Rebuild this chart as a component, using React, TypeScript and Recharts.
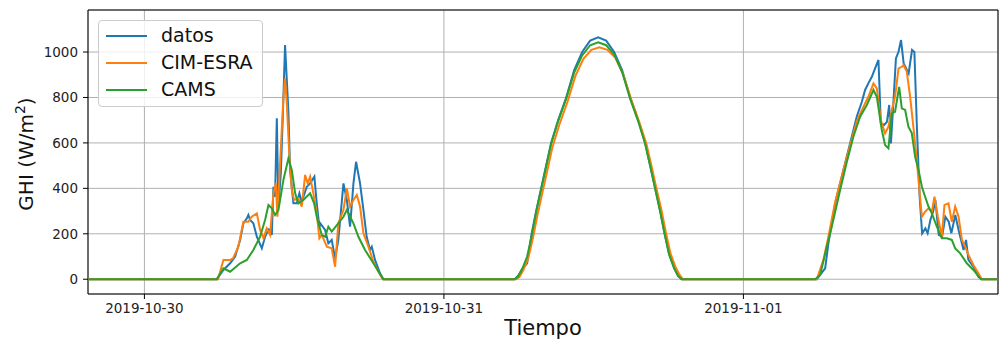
import { LineChart, Line, XAxis, YAxis, CartesianGrid, ReferenceArea, Label } from 'recharts';

const fuente = "'DejaVu Sans', 'Liberation Sans', sans-serif";

// horas desde 2019-10-30 00:00 , GHI en W/m2
const datos: [number, number][] = [
  [-4.52, 0], [5.8, 0], [6.33, 41], [6.87, 70], [7.27, 100], [7.67, 173], [7.93, 246], [8.21, 268], [8.33, 283],
  [8.47, 261], [8.73, 246], [9.01, 187], [9.41, 136], [9.67, 187], [9.94, 220], [10.07, 217], [10.21, 195],
  [10.34, 407], [10.47, 363], [10.61, 708], [10.74, 320], [10.93, 466], [11.09, 715], [11.27, 1031], [11.54, 737],
  [11.67, 481], [11.94, 334], [12.21, 334], [12.42, 378], [12.61, 341], [13.01, 407], [13.28, 422], [13.62, 452],
  [13.81, 334], [14.02, 231], [14.08, 247], [14.48, 217], [14.74, 158], [15.01, 173], [15.28, 92], [15.54, 173],
  [15.95, 422], [16.22, 349], [16.48, 231], [16.75, 422], [16.96, 517], [17.28, 422], [17.55, 305], [17.81, 187],
  [18.08, 129], [18.22, 143], [18.48, 85], [18.88, 26], [19.15, 0],
  [29.67, 0], [29.95, 15], [30.27, 45], [30.67, 70], [31.03, 200], [31.39, 300], [31.79, 400], [32.19, 500],
  [32.59, 600], [33.15, 700], [33.8, 800], [34.44, 920], [35.08, 1000], [35.72, 1050], [36.36, 1065], [37.0, 1050],
  [37.64, 1000], [38.28, 920], [38.92, 800], [39.57, 700], [40.13, 600], [40.53, 500], [40.93, 400], [41.33, 300],
  [41.69, 200], [42.05, 110], [42.45, 50], [42.77, 15], [43.05, 0],
  [53.88, 0], [54.55, 48], [54.81, 158], [55.35, 334], [56.01, 481], [56.55, 598], [57.08, 715], [57.49, 781],
  [57.75, 833], [58.01, 862], [58.29, 891], [58.55, 928], [58.82, 965], [59.01, 686], [59.28, 679], [59.5, 693],
  [59.68, 767], [59.82, 598], [60.03, 789], [60.22, 972], [60.43, 1001], [60.63, 1053], [60.84, 950], [61.24, 906],
  [61.51, 1009], [61.7, 1000], [61.91, 657], [62.12, 363], [62.32, 202], [62.58, 224], [62.76, 202], [62.98, 261],
  [63.2, 297], [63.38, 349], [63.65, 195], [63.92, 187], [64.18, 275], [64.45, 253], [64.66, 202], [64.98, 283],
  [65.24, 217], [65.64, 129], [65.84, 173], [66.03, 85], [66.43, 55], [66.83, 11], [67.1, 0], [68.4, 0],
];

const cimEsra: [number, number][] = [
  [-4.52, 0], [5.9, 0], [6.33, 85], [6.87, 85], [7.1, 92], [7.53, 143], [7.93, 253], [8.33, 253], [8.6, 275],
  [9.01, 290], [9.27, 217], [9.54, 180], [9.8, 224], [10.07, 195], [10.34, 378], [10.53, 422], [10.66, 275],
  [10.87, 510], [11.14, 803], [11.27, 884], [11.41, 774], [11.62, 539], [11.81, 393], [12.0, 349], [12.34, 356],
  [12.61, 320], [12.88, 459], [13.09, 422], [13.28, 452], [13.54, 378], [13.81, 290], [14.02, 180], [14.21, 195],
  [14.62, 143], [15.01, 136], [15.28, 55], [15.54, 246], [15.95, 305], [16.22, 400], [16.48, 320], [16.75, 349],
  [17.02, 371], [17.28, 320], [17.55, 202], [17.95, 143], [18.35, 77], [18.75, 33], [19.1, 0],
  [29.77, 0], [30.05, 10], [30.37, 40], [30.77, 95], [31.13, 180], [31.49, 280], [31.89, 380], [32.29, 480],
  [32.69, 580], [33.25, 680], [33.9, 780], [34.54, 895], [35.18, 970], [35.82, 1010], [36.46, 1021], [37.1, 1010],
  [37.74, 975], [38.38, 900], [39.02, 790], [39.67, 690], [40.23, 595], [40.63, 500], [41.03, 400], [41.43, 305],
  [41.79, 205], [42.15, 115], [42.55, 55], [42.87, 20], [43.15, 0],
  [53.88, 0], [54.41, 85], [54.81, 187], [55.35, 340], [56.01, 480], [56.55, 590], [57.08, 695], [57.62, 759],
  [58.01, 803], [58.42, 862], [58.69, 840], [59.01, 701], [59.35, 642], [59.62, 671], [59.89, 745], [60.15, 803],
  [60.43, 928], [60.69, 935], [60.82, 943], [61.09, 914], [61.36, 803], [61.62, 671], [61.89, 525], [62.1, 393],
  [62.3, 275], [62.56, 297], [62.83, 312], [63.1, 297], [63.31, 363], [63.58, 275], [63.9, 187], [64.11, 327],
  [64.43, 334], [64.7, 253], [64.97, 320], [65.24, 275], [65.51, 173], [65.77, 143], [66.03, 107], [66.43, 63],
  [66.83, 26], [67.1, 0], [68.4, 0],
];

const cams: [number, number][] = [
  [-4.52, 0], [5.8, 0], [6.33, 48], [6.87, 33], [7.67, 70], [8.21, 85], [8.73, 129], [9.27, 187], [9.67, 261],
  [9.94, 327], [10.21, 312], [10.47, 283], [10.74, 305], [11.14, 437], [11.54, 532], [11.81, 481], [12.08, 378],
  [12.34, 334], [12.74, 349], [13.28, 378], [13.6, 334], [13.81, 275], [14.21, 195], [14.48, 187], [14.74, 231],
  [15.01, 210], [15.95, 275], [16.22, 305], [16.75, 246], [17.15, 187], [17.68, 129], [18.35, 70], [19.02, 11],
  [19.15, 0],
  [29.67, 0], [29.95, 12], [30.27, 45], [30.67, 100], [31.03, 190], [31.39, 295], [31.79, 395], [32.19, 495],
  [32.59, 595], [33.15, 695], [33.8, 795], [34.44, 910], [35.08, 985], [35.72, 1030], [36.36, 1043], [37.0, 1030],
  [37.64, 990], [38.28, 912], [38.92, 795], [39.57, 695], [40.13, 595], [40.53, 498], [40.93, 398], [41.33, 298],
  [41.69, 198], [42.05, 108], [42.45, 48], [42.77, 14], [43.05, 0],
  [53.75, 0], [54.15, 19], [54.68, 143], [55.08, 231], [55.75, 393], [56.29, 517], [56.81, 627], [57.35, 715],
  [57.89, 767], [58.42, 833], [58.69, 803], [59.09, 657], [59.35, 591], [59.62, 576], [59.89, 730], [60.15, 737],
  [60.48, 847], [60.69, 752], [60.96, 745], [61.22, 671], [61.49, 643], [61.76, 539], [62.03, 481], [62.3, 407],
  [62.56, 363], [62.83, 320], [63.1, 290], [63.5, 231], [63.9, 180], [64.3, 180], [64.7, 173], [64.97, 136],
  [65.37, 114], [65.9, 70], [66.43, 41], [66.97, 4], [67.05, 0], [68.4, 0],
];

const ticksTiempo = [0, 24, 48];
const etiquetasTiempo = ['2019-10-30', '2019-10-31', '2019-11-01'];
const ticksGHI = [0, 200, 400, 600, 800, 1000];

const series = [
  { nombre: 'datos', color: '#1f77b4', puntos: datos },
  { nombre: 'CIM-ESRA', color: '#ff7f0e', puntos: cimEsra },
  { nombre: 'CAMS', color: '#2ca02c', puntos: cams },
];

const dominioX: [number, number] = [-4.52, 68.4];
const dominioY: [number, number] = [-65, 1185];

const EtiquetaTiempo = ({ viewBox }: any) => (
  <text x={viewBox.x + viewBox.width / 2} y={viewBox.y + 41} textAnchor="middle"
    style={{ fontFamily: fuente, fontSize: 21, fill: '#111' }}>
    Tiempo
  </text>
);

const EtiquetaGHI = ({ viewBox }: any) => {
  const x = viewBox.x + 5;
  const y = viewBox.y + viewBox.height / 2 + 2;
  return (
    <text x={x} y={y} textAnchor="middle" transform={`rotate(-90, ${x}, ${y})`}
      style={{ fontFamily: fuente, fontSize: 20, fill: '#111' }}>
      GHI (W/m<tspan dy={-8} fontSize={14}>2</tspan><tspan dy={8}>)</tspan>
    </text>
  );
};

export default function App() {
  return (
    <div style={{ position: 'fixed', left: 0, top: 0, width: 999, height: 340, background: '#fff' }}>
      <LineChart width={999} height={340} margin={{ top: 10, right: 1, left: 28, bottom: 16 }}>
        <CartesianGrid stroke="#b0b0b0" strokeWidth={1} />
        <XAxis
          dataKey="t"
          type="number"
          domain={dominioX}
          ticks={ticksTiempo}
          interval={0}
          allowDataOverflow
          height={30}
          tickSize={5}
          tickMargin={4}
          axisLine={false}
          tickLine={{ stroke: '#000' }}
          tick={{ fill: '#222', fontSize: 13.5, fontFamily: fuente }}
          tickFormatter={(h: number) => etiquetasTiempo[ticksTiempo.indexOf(h)]}
        >
          <Label content={EtiquetaTiempo} />
        </XAxis>
        <YAxis
          type="number"
          domain={dominioY}
          ticks={ticksGHI}
          interval={0}
          allowDataOverflow
          width={60}
          tickSize={5}
          tickMargin={5}
          axisLine={false}
          tickLine={{ stroke: '#000' }}
          tick={{ fill: '#222', fontSize: 13.5, fontFamily: fuente }}
        >
          <Label content={EtiquetaGHI} />
        </YAxis>
        {series.map((s) => (
          <Line
            key={s.nombre}
            data={s.puntos.map(([t, v]) => ({ t, v }))}
            dataKey="v"
            name={s.nombre}
            type="linear"
            stroke={s.color}
            strokeWidth={2}
            dot={false}
            activeDot={false}
            isAnimationActive={false}
          />
        ))}
        <ReferenceArea x1={dominioX[0]} x2={dominioX[1]} y1={dominioY[0]} y2={dominioY[1]}
          fill="none" stroke="#000" strokeWidth={1} strokeOpacity={1} />
      </LineChart>
      <div style={{
        position: 'absolute', left: 98, top: 20, width: 165, height: 87, boxSizing: 'border-box',
        border: '1px solid #cccccc', borderRadius: 4, background: 'rgba(255,255,255,0.8)', paddingLeft: 7,
        paddingTop: 1,
      }}>
        {series.map((s) => (
          <div key={s.nombre} style={{ display: 'flex', alignItems: 'center', height: 27 }}>
            <div style={{ width: 41, height: 2, background: s.color, marginRight: 14 }} />
            <span style={{ fontFamily: fuente, fontSize: 19, lineHeight: '27px', color: '#111' }}>{s.nombre}</span>
          </div>
        ))}
      </div>
    </div>
  );
}
